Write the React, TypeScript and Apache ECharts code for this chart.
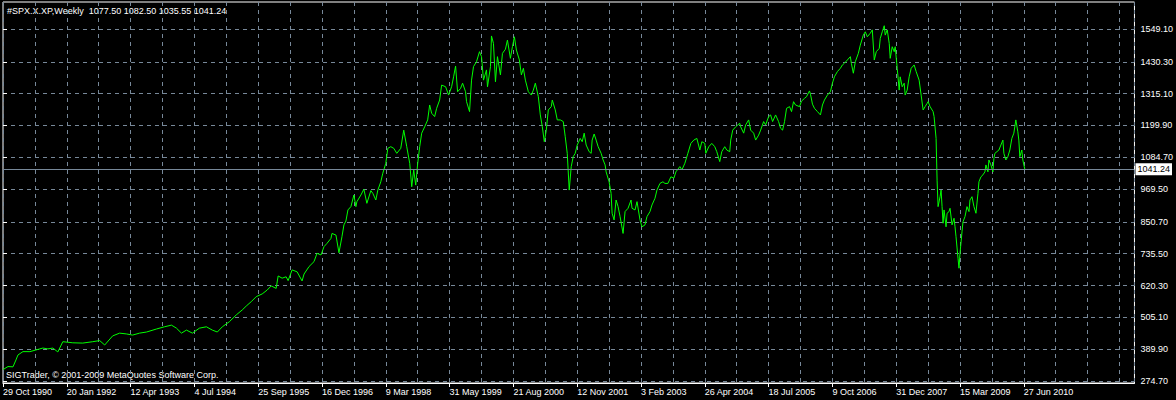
import React, { useEffect, useRef } from 'react';
import * as echarts from 'echarts';

const chartTitle = '#SPX.X.XP,Weekly  1077.50 1082.50 1035.55 1041.24';
const copyrightText = 'SIGTrader, \u00A9 2001-2009 MetaQuotes Software Corp.';
const lastClose = 1041.24;
const lastCloseLabel = '1041.24';

// x axis: weekly bar number, one label every 64 bars
const dateLabelBars = [0, 64, 128, 192, 256, 320, 384, 448, 512, 576, 640, 704, 768, 832, 896, 960, 1024];
const dateLabels = [
  '29 Oct 1990', '20 Jan 1992', '12 Apr 1993', '4 Jul 1994', '25 Sep 1995', '16 Dec 1996',
  '9 Mar 1998', '31 May 1999', '21 Aug 2000', '12 Nov 2001', '3 Feb 2003', '26 Apr 2004',
  '18 Jul 2005', '9 Oct 2006', '31 Dec 2007', '15 Mar 2009', '27 Jun 2010',
];
const firstBar = 0;
const lastVisibleBar = 1135;
const gridBarStep = 32;

// y axis price scale
const priceMin = 267.46;
const priceMax = 1646.9;
const priceTicks = [274.7, 389.9, 505.1, 620.3, 735.5, 850.7, 969.5, 1084.7, 1199.9, 1315.1, 1430.3, 1549.1];
const priceTickLabels = ['274.70', '389.90', '505.10', '620.30', '735.50', '850.70', '969.50', '1084.70', '1199.90', '1315.10', '1430.30', '1549.10'];

// [bar number, weekly close]
const weeklyCloses: [number, number][] = [
  [0, 316], [5, 327], [10, 326], [13, 351], [15, 369], [20, 381], [27, 381], [33, 387], [40, 394], [45, 391],
  [50, 394], [55, 380], [60, 417], [70, 413], [80, 412], [90, 417], [97, 421], [102, 405], [110, 438], [117, 448],
  [124, 445], [130, 441], [137, 448], [144, 452], [154, 463], [162, 471], [169, 477], [174, 466], [179, 448], [184, 459],
  [190, 448], [197, 466], [204, 471], [210, 459], [215, 452], [220, 471],
  [227, 489], [234, 514], [240, 532], [244, 546], [249, 562], [254, 580], [260, 590], [265, 604], [269, 619], [274, 610],
  [276, 655], [280, 647], [284, 652], [286, 638], [290, 677], [295, 670], [300, 637], [302, 662], [307, 689], [312, 707],
  [315, 737], [319, 731], [322, 761], [325, 773], [329, 791], [330, 809], [334, 803], [337, 739], [340, 797], [342, 840],
  [344, 854], [346, 894], [349, 906], [352, 948], [354, 906], [355, 924], [359, 948], [362, 969], [365, 918], [369, 964],
  [371, 954], [374, 930], [376, 966], [379, 996], [381, 1027], [384, 1063], [386, 1117], [389, 1123], [392, 1117], [395, 1099],
  [399, 1117], [402, 1183], [405, 1123], [408, 1063], [410, 978], [412, 1039], [414, 984], [416, 1063], [418, 1123], [420, 1172],
  [423, 1195], [426, 1220], [428, 1274], [430, 1244], [433, 1232], [435, 1262], [438, 1292], [440, 1346], [444, 1340], [447, 1310],
  [450, 1340], [452, 1376], [454, 1415], [456, 1322], [459, 1334], [461, 1353], [464, 1322], [465, 1286], [468, 1250],
  [470, 1364], [472, 1413], [475, 1431], [478, 1467], [480, 1449], [482, 1364], [485, 1401], [486, 1340], [489, 1413], [490, 1524],
  [492, 1497], [494, 1358], [496, 1449], [499, 1383], [501, 1461], [504, 1476], [506, 1509], [509, 1443], [511, 1485], [513, 1521],
  [515, 1473], [518, 1437], [520, 1383], [522, 1407], [524, 1364], [527, 1322], [530, 1310], [532, 1328], [534, 1353], [537, 1304],
  [539, 1238], [541, 1195], [543, 1141], [545, 1183], [547, 1256], [550, 1268], [551, 1292], [554, 1256], [556, 1220], [559, 1220],
  [562, 1214], [564, 1159], [566, 1099], [568, 966], [570, 1051], [572, 1087], [574, 1099], [576, 1129], [579, 1153], [581, 1141],
  [583, 1172], [585, 1129], [588, 1105], [590, 1099], [591, 1147], [593, 1169], [595, 1147], [597, 1123], [600, 1099], [602, 1075],
  [604, 1057], [605, 1032], [608, 996], [610, 954], [611, 882], [613, 858], [615, 930], [617, 906], [619, 870], [622, 809],
  [624, 888], [627, 900], [630, 930], [631, 900], [634, 894], [636, 924], [639, 858], [641, 833], [644, 840], [646, 870],
  [649, 888], [651, 912], [654, 936], [656, 966], [659, 990], [662, 996], [664, 990], [667, 990], [670, 1014], [673, 1009],
  [675, 1032], [679, 1051], [681, 1039], [684, 1063], [687, 1099], [690, 1135], [693, 1147], [696, 1153],
  [699, 1111], [701, 1141], [704, 1135], [705, 1099], [708, 1123], [711, 1135], [714, 1123], [716, 1105], [719, 1069], [721, 1105],
  [724, 1123], [726, 1111], [729, 1105], [730, 1147], [732, 1183], [735, 1195], [739, 1208], [740, 1195], [743, 1172], [745, 1202],
  [748, 1220], [750, 1183], [753, 1172], [755, 1147], [758, 1165], [760, 1183], [763, 1214], [765, 1202], [768, 1232], [770, 1238],
  [772, 1214], [775, 1238], [778, 1214], [780, 1190], [782, 1183], [784, 1214], [786, 1262], [789, 1268], [791, 1250], [793, 1286],
  [795, 1274], [799, 1268], [801, 1288], [804, 1298], [806, 1304], [809, 1325], [810, 1313], [812, 1277], [814, 1262], [817, 1250],
  [820, 1238], [822, 1274], [824, 1292], [827, 1310], [830, 1322], [832, 1353], [834, 1376], [837, 1395], [840, 1407], [842, 1419],
  [844, 1425], [847, 1437], [850, 1449], [851, 1425], [853, 1389], [855, 1431], [858, 1461], [860, 1491], [863, 1527], [865, 1539],
  [867, 1521], [870, 1534], [872, 1546], [874, 1437], [876, 1467], [879, 1479], [880, 1515], [882, 1539], [884, 1561], [885, 1527],
  [887, 1546], [889, 1497], [890, 1443], [892, 1485], [894, 1467], [895, 1485], [897, 1407], [899, 1328], [900, 1376], [902, 1340],
  [904, 1353], [905, 1310], [907, 1328], [909, 1376], [911, 1407], [914, 1419], [916, 1395], [919, 1364], [921, 1310], [923, 1256],
  [925, 1268], [927, 1280],
  [928, 1286], [930, 1268], [933, 1250], [934, 1232], [936, 1153], [937, 1002], [938, 906], [940, 942], [941, 966], [942, 906],
  [943, 846], [944, 894], [946, 833], [947, 882], [949, 888], [950, 900], [952, 840], [954, 864], [955, 833], [956, 797],
  [958, 719], [959, 683], [960, 737], [962, 815], [963, 851], [965, 870], [967, 906], [969, 888], [970, 930], [972, 942],
  [974, 906], [976, 882], [978, 954], [979, 996], [981, 1014], [983, 1021], [985, 1032], [986, 1057], [988, 1032], [989, 1075],
  [991, 1057], [993, 1032], [994, 1081], [995, 1099], [999, 1111], [1001, 1129], [1003, 1147], [1004, 1099], [1006, 1075], [1008, 1087],
  [1010, 1111], [1012, 1153], [1014, 1172], [1016, 1220], [1018, 1177], [1019, 1147], [1020, 1087], [1022, 1111], [1023, 1075], [1025, 1041.24],
];

const FONT = 'Liberation Sans';
const GRID_COLOR = '#778899';
const DASH = [4, 4];

export default function App() {
  const ref = useRef<HTMLDivElement>(null);

  useEffect(() => {
    if (!ref.current) return;
    const chart = echarts.init(ref.current, null, { renderer: 'svg' });

    const option = {
      animation: false,
      backgroundColor: '#000000',
      grid: {
        left: 3,
        right: 38,
        top: 2,
        bottom: 17,
        show: true,
        borderColor: '#ffffff',
        borderWidth: 1,
        backgroundColor: 'transparent',
      },
      xAxis: [
        {
          type: 'value',
          position: 'bottom',
          min: firstBar,
          max: lastVisibleBar,
          interval: gridBarStep,
          axisLine: { show: false },
          axisTick: { show: false },
          axisLabel: { show: false },
          splitLine: { show: true, lineStyle: { color: GRID_COLOR, type: DASH, width: 1 } },
        },
        {
          type: 'value',
          position: 'bottom',
          min: firstBar,
          max: lastVisibleBar,
          axisLine: { show: true, lineStyle: { color: '#ffffff', width: 1 } },
          axisTick: {
            show: true,
            customValues: dateLabelBars,
            length: 4,
            lineStyle: { color: '#ffffff' },
          },
          axisLabel: {
            show: true,
            customValues: dateLabelBars,
            formatter: (v: number) => {
              const i = dateLabelBars.indexOf(Math.round(v));
              return i >= 0 ? dateLabels[i] : '';
            },
            align: 'left',
            color: '#ffffff',
            fontSize: 9,
            fontFamily: FONT,
            margin: 4,
          },
          splitLine: { show: false },
        },
      ],
      yAxis: {
        type: 'value',
        position: 'right',
        min: priceMin,
        max: priceMax,
        axisLine: { show: false },
        axisTick: {
          show: true,
          customValues: priceTicks,
          length: 4,
          lineStyle: { color: '#ffffff' },
        },
        axisLabel: {
          show: true,
          customValues: priceTicks,
          formatter: (v: number) => {
            let best = 0;
            for (let i = 1; i < priceTicks.length; i++) {
              if (Math.abs(priceTicks[i] - v) < Math.abs(priceTicks[best] - v)) best = i;
            }
            return priceTickLabels[best];
          },
          color: '#ffffff',
          fontSize: 9,
          fontFamily: FONT,
          margin: 6,
        },
        splitLine: { show: true, lineStyle: { color: GRID_COLOR, type: DASH, width: 1 } },
      },
      series: [
        {
          type: 'line',
          xAxisIndex: 0,
          yAxisIndex: 0,
          data: weeklyCloses,
          symbol: 'none',
          showSymbol: false,
          lineStyle: { color: '#00ff00', width: 1 },
          itemStyle: { color: '#00ff00' },
          silent: true,
          markLine: {
            silent: true,
            symbol: ['none', 'none'],
            lineStyle: { color: GRID_COLOR, type: 'solid', width: 1 },
            label: {
              show: true,
              position: 'end',
              formatter: lastCloseLabel,
              color: '#000000',
              backgroundColor: '#ffffff',
              fontSize: 9,
              fontFamily: FONT,
              padding: [2, 2, 1, 2],
              distance: 1,
            },
            data: [{ yAxis: lastClose }],
          },
        },
      ],
      graphic: [
        {
          type: 'text',
          x: 7,
          y: 11,
          style: {
            text: chartTitle,
            fill: '#ffffff',
            fontSize: 9,
            fontFamily: FONT,
            verticalAlign: 'middle',
          },
        },
        {
          type: 'text',
          x: 6,
          y: 375,
          style: {
            text: copyrightText,
            fill: '#ffffff',
            fontSize: 9,
            fontFamily: FONT,
            verticalAlign: 'middle',
          },
        },
      ],
    };

    chart.setOption(option as any);
    return () => chart.dispose();
  }, []);

  return (
    <div
      ref={ref}
      style={{ position: 'absolute', left: 0, top: 0, width: 1176, height: 400 }}
    />
  );
}
